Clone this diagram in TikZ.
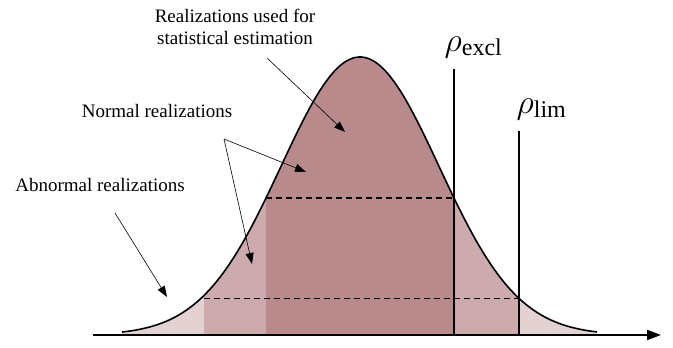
\RequirePackage{fix-cm}
\documentclass[tikz,border=0pt]{standalone}
\usepackage{fontspec}
\setmainfont{Liberation Serif}
\usetikzlibrary{arrows.meta, positioning}
\definecolor{clight}{HTML}{E4D2D3}
\definecolor{cmid}{HTML}{CDAAAD}
\definecolor{cdark}{HTML}{B98A8C}
\pgfmathdeclarefunction{bell}{1}{\pgfmathparse{335-278*exp(-0.5*pow(((#1)-360)/79,2))}}
\tikzset{
  every picture/.style={font=\fontsize{19}{22}\selectfont, line width=1.4pt},
  note/.style={align=center, inner sep=0pt},
  pointer/.style={-{Triangle[length=11pt, width=8pt]}, line width=0.6pt},
  limit/.style={line width=1.5pt},
  level/.style={dash pattern=on 6pt off 4pt, line width=1.4pt},
  sym/.style={inner sep=0pt, anchor=base west},
}

\begin{document}
\begin{tikzpicture}[x=1pt, y=-1pt]
  \useasboundingbox (0,0) rectangle (673,348);
  % bands under the bell
  \foreach \a/\b/\c in {122/204/clight, 204/266/cmid, 266/454/cdark, 454/519/cmid, 519/597/clight}
    \fill[\c] (\a,335) -- plot[domain=\a:\b, samples=40] (\x,{bell(\x)}) -- (\b,335) -- cycle;
  \draw[line width=1.6pt] plot[domain=122:597, samples=120, smooth] (\x,{bell(\x)});
  % levels
  \pgfmathsetmacro{\yexcl}{bell(454)}
  \pgfmathsetmacro{\ylim}{bell(519)}
  \draw[level] (266,\yexcl) -- (454,\yexcl);
  \draw[level] (204,\ylim) -- (519,\ylim);
  % thresholds
  \node[sym] (excl) at (444,52) {{\fontsize{34}{38}\selectfont$\rho$}\raisebox{-4pt}{\fontsize{24}{28}\selectfont excl}};
  \node[sym] (lim) at (516,113) {{\fontsize{34}{38}\selectfont$\rho$}\raisebox{-4pt}{\fontsize{24}{28}\selectfont lim}};
  \draw[limit] (454,69) -- (454,335);
  \draw[limit] (519,131) -- (519,335);
  % axis
  \draw[-{Triangle[length=14pt, width=10pt]}, line width=2pt] (93,335) -- (661,335);
  % labels
  \node[note] (est) at (235,27) {Realizations used for\\statistical estimation};
  \node[note, anchor=base] (norm) at (157,117) {Normal realizations};
  \node[note, anchor=base] (abn) at (100,191) {Abnormal realizations};
  \coordinate (est-tail) at (267,58);
  \coordinate (est-tip) at (345,132);
  \coordinate (norm-tail) at (224,139);
  \coordinate (norm-tip1) at (306,172);
  \coordinate (norm-tip2) at (252,264);
  \coordinate (abn-tail) at (115,213);
  \coordinate (abn-tip) at (167,297);
  \draw[pointer] (est-tail) -- (est-tip);
  \draw[pointer] (norm-tail) -- (norm-tip1);
  \draw[pointer] (norm-tail) -- (norm-tip2);
  \draw[pointer] (abn-tail) -- (abn-tip);
\end{tikzpicture}
\end{document}
